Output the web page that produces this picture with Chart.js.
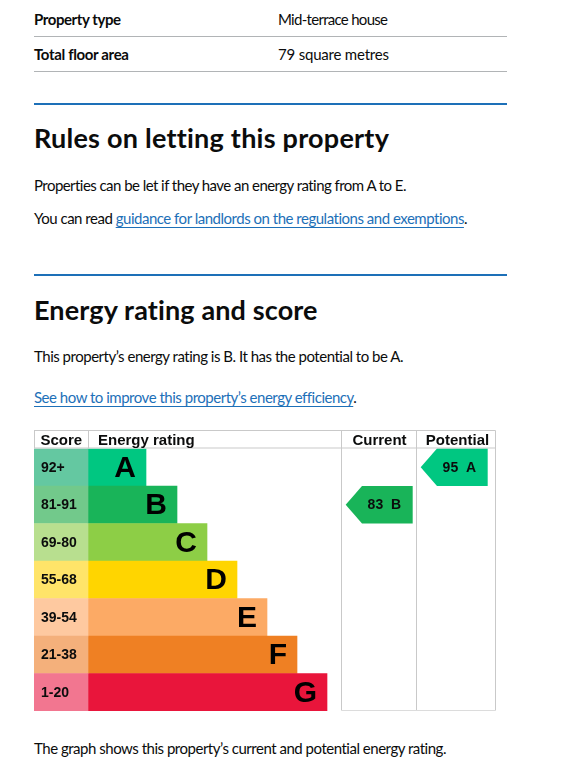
<!DOCTYPE html>
<html><head><meta charset="utf-8">
<script src="https://cdn.jsdelivr.net/npm/chart.js@4.4.1/dist/chart.umd.min.js"></script>
<style>
html,body{margin:0;padding:0;background:#fff;}
body{width:567px;height:784px;overflow:hidden;position:relative;font-family:Lato,"Noto Sans",sans-serif;color:#0b0c0c;}
.t{position:absolute;white-space:nowrap;line-height:20px;font-size:15px;}
.b{font-weight:700;}
.h{font-weight:700;font-size:27px;line-height:32px;}
.bl{display:inline-block;width:0;height:0;vertical-align:baseline;}
.hr{position:absolute;left:34px;width:473px;height:1px;background:#b1b4b6;}
.blue{position:absolute;left:34px;width:473px;height:2px;background:#1d70b8;}
a{color:#1d70b8;text-decoration:underline;text-decoration-thickness:1px;text-underline-offset:3px;}
#wrap{position:absolute;left:34px;top:429px;width:463px;height:284px;}
</style></head>
<body>
<div class="t b" data-x="34" data-b="25" data-w="87"><span class="bl"></span>Property type</div>
<div class="t" data-x="278" data-b="25" data-w="110"><span class="bl"></span>Mid-terrace house</div>
<div class="hr" style="top:36px"></div>
<div class="t b" data-x="34" data-b="59.5" data-w="95"><span class="bl"></span>Total floor area</div>
<div class="t" data-x="278" data-b="59.5" data-w="111"><span class="bl"></span>79 square metres</div>
<div class="hr" style="top:71px"></div>
<div class="blue" style="top:103px"></div>
<div class="t h" data-x="34" data-b="148" data-w="354"><span class="bl"></span>Rules on letting this property</div>
<div class="t" data-x="34" data-b="190.5" data-w="373"><span class="bl"></span>Properties can be let if they have an energy rating from A to E.</div>
<div class="t" data-x="34" data-b="223.5" data-w="434"><span class="bl"></span>You can read <a>guidance for landlords on the regulations and exemptions</a>.</div>
<div class="blue" style="top:274px"></div>
<div class="t h" data-x="34" data-b="319.5" data-w="284"><span class="bl"></span>Energy rating and score</div>
<div class="t" data-x="34" data-b="361.5" data-w="370"><span class="bl"></span>This property’s energy rating is B. It has the potential to be A.</div>
<div class="t" data-x="34" data-b="402.5" data-w="322"><span class="bl"></span><a>See how to improve this property’s energy efficiency</a>.</div>
<div id="wrap"><canvas id="c" width="463" height="284"></canvas></div>
<div class="t" data-x="34" data-b="753.5" data-w="413"><span class="bl"></span>The graph shows this property’s current and potential energy rating.</div>
<script>
// ---- data ----
const bands = ['A','B','C','D','E','F','G'];
const scoreRanges = ['92+','81-91','69-80','55-68','39-54','21-38','1-20'];
const bandLengths = [58, 89, 119, 149, 179, 209, 239];
const currentScore = 83;
const currentBand = 'B';
const potentialScore = 95;
const potentialBand = 'A';

// ---- styles / layout ----
const bandColors = ['#00c781','#19b459','#8dce46','#ffd500','#fcaa65','#ef8023','#e9153b'];
const scoreColors = ['#64c8a1','#72c98b','#b8df8f','#ffe469','#fec9a0','#f4b07b','#f27690'];
const SCORE_W = 54, CUR_L = 307, POT_L = 382, END_X = 461;
const GRID = '#c9c9c9';

// text fitting
function fit(){
  document.querySelectorAll('.t').forEach(el=>{
    el.style.left = el.dataset.x + 'px';
    el.style.letterSpacing = '0px';
    el.style.top = '0px';
    const w = el.getBoundingClientRect().width;
    const n = el.textContent.length;
    const tw = +el.dataset.w;
    if (tw) el.style.letterSpacing = ((tw - w) / (n - 1)) + 'px';
    const b = el.querySelector('.bl').getBoundingClientRect().top;
    el.style.top = (+el.dataset.b - b) + 'px';
  });
}
fit();
if (document.fonts && document.fonts.ready) document.fonts.ready.then(fit);

const decor = {
  id: 'decor',
  afterDatasetsDraw(chart) {
    const ctx = chart.ctx, x = chart.scales.x, ca = chart.chartArea;
    const m0 = chart.getDatasetMeta(0).data, m1 = chart.getDatasetMeta(1).data;
    ctx.save();
    // score labels
    ctx.fillStyle = '#0b0c0c';
    ctx.textBaseline = 'middle';
    ctx.textAlign = 'left';
    ctx.font = 'bold 14px "Liberation Sans", Arial, sans-serif';
    m0.forEach((el, i) => ctx.fillText(scoreRanges[i], x.getPixelForValue(0) + 7, el.y + 0.5));
    // band letters
    ctx.textAlign = 'right';
    ctx.font = 'bold 30px "Liberation Sans", Arial, sans-serif';
    ctx.fillStyle = '#000';
    m1.forEach((el, i) => ctx.fillText(bands[i], el.x - 10, el.y + 1));
    // arrows
    function arrow(score, band, colL) {
      const i = bands.indexOf(band);
      const el = m1[i];
      const h = el.height, y = el.y;
      const left = x.getPixelForValue(colL) + 4.7, tip = 16.3, right = left + 67;
      ctx.beginPath();
      ctx.moveTo(left, y);
      ctx.lineTo(left + tip, y - h / 2);
      ctx.lineTo(right, y - h / 2);
      ctx.lineTo(right, y + h / 2);
      ctx.lineTo(left + tip, y + h / 2);
      ctx.closePath();
      ctx.fillStyle = bandColors[i];
      ctx.fill();
      ctx.fillStyle = '#0b0c0c';
      ctx.textAlign = 'center';
      ctx.font = 'bold 14px "Liberation Sans", Arial, sans-serif';
      ctx.fillText(score + '  ' + band, (left + tip + right) / 2 - 3, y + 0.5);
    }
    arrow(currentScore, currentBand, CUR_L);
    arrow(potentialScore, potentialBand, POT_L);
    // grid lines
    ctx.strokeStyle = GRID;
    ctx.lineWidth = 1;
    const px = v => Math.round(x.getPixelForValue(v)) + 0.5;
    const top = 1.5, hb = 19.5, bot = Math.round(ca.bottom) - 0.5;
    ctx.beginPath();
    ctx.moveTo(px(0) - 0.5, top); ctx.lineTo(px(END_X), top);
    ctx.moveTo(px(0) - 0.5, hb - 0.5); ctx.lineTo(px(END_X), hb - 0.5);
    ctx.moveTo(px(0), top); ctx.lineTo(px(0), hb);
    ctx.moveTo(px(SCORE_W), top); ctx.lineTo(px(SCORE_W), hb);
    [CUR_L, POT_L, END_X].forEach(v => { ctx.moveTo(px(v), top); ctx.lineTo(px(v), bot); });
    ctx.stroke();
    ctx.strokeStyle = '#dcdcdc';
    ctx.beginPath();
    ctx.moveTo(px(CUR_L), bot); ctx.lineTo(px(END_X), bot);
    ctx.stroke();
    // header text
    ctx.fillStyle = '#0b0c0c';
    ctx.textBaseline = 'middle';
    ctx.font = 'bold 15px "Liberation Sans", Arial, sans-serif';
    ctx.textAlign = 'left';
    ctx.fillText('Score', x.getPixelForValue(0) + 6.5, 11.5);
    ctx.fillText('Energy rating', x.getPixelForValue(SCORE_W) + 10, 11.5);
    ctx.textAlign = 'center';
    ctx.fillText('Current', (x.getPixelForValue(CUR_L) + x.getPixelForValue(POT_L)) / 2 + 1, 11.5);
    ctx.fillText('Potential', (x.getPixelForValue(POT_L) + x.getPixelForValue(END_X)) / 2 + 2, 11.5);
    ctx.restore();
  }
};

new Chart(document.getElementById('c'), {
  type: 'bar',
  data: {
    labels: bands,
    datasets: [
      { data: bands.map(() => [0, SCORE_W]), backgroundColor: scoreColors, grouped: false,
        barPercentage: 1, categoryPercentage: 1, borderWidth: 0, borderSkipped: false },
      { data: bandLengths.map(l => [SCORE_W, SCORE_W + l]), backgroundColor: bandColors, grouped: false,
        barPercentage: 1, categoryPercentage: 1, borderWidth: 0, borderSkipped: false }
    ]
  },
  options: {
    indexAxis: 'y',
    responsive: false,
    animation: false,
    devicePixelRatio: 1,
    layout: { padding: { top: 19.5, bottom: 2, left: 0, right: 2 } },
    scales: {
      x: { type: 'linear', min: 0, max: END_X, display: false },
      y: { type: 'category', display: false }
    },
    plugins: { legend: { display: false }, tooltip: { enabled: false } },
    events: []
  },
  plugins: [decor]
});
</script>
</body></html>
